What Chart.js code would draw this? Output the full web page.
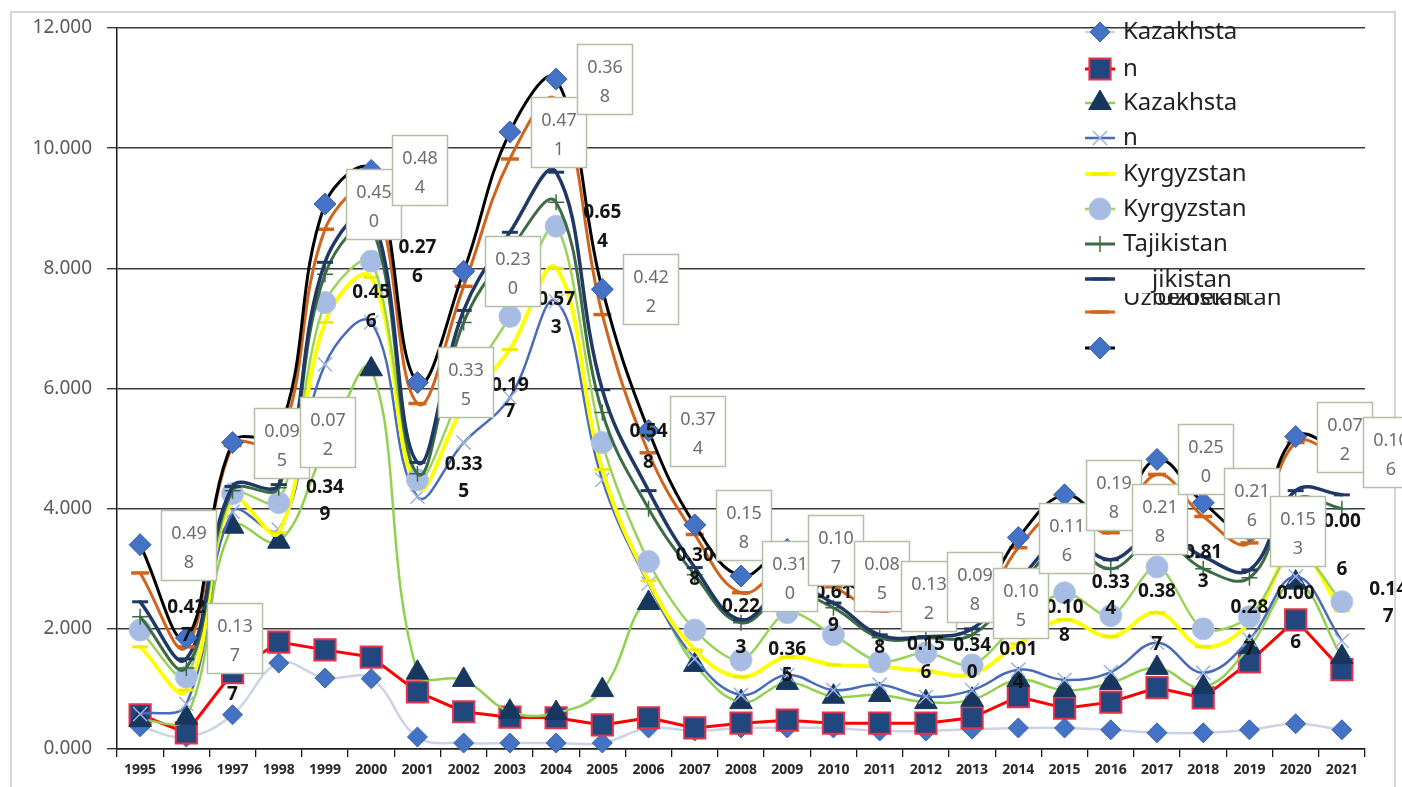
<!DOCTYPE html>
<html>
<head>
<meta charset="utf-8">
<script src="https://cdn.jsdelivr.net/npm/chart.js@4.4.1/dist/chart.umd.min.js"></script>
<style>
  html, body { margin: 0; padding: 0; background: #ffffff; overflow: hidden; }
  #wrap { width: 1402px; height: 787px; position: relative; }
</style>
</head>
<body>
<div id="wrap"><canvas id="chart" width="1402" height="787"></canvas></div>
<script>
// Years on the category axis
const years = ['1995','1996','1997','1998','1999','2000','2001','2002','2003','2004','2005','2006','2007','2008',
               '2009','2010','2011','2012','2013','2014','2015','2016','2017','2018','2019','2020','2021'];

// Value axis ticks
const yTickValues = [0, 2, 4, 6, 8, 10, 12];

// Series values, one per year
const kazLow      = [0.37,0.20,0.57,1.43,1.18,1.17,0.20,0.10,0.10,0.10,0.10,0.35,0.30,0.35,0.35,0.35,0.30,0.30,0.33,0.35,0.35,0.32,0.27,0.27,0.32,0.42,0.32];
const kazSquares  = [0.57,0.27,1.27,1.78,1.65,1.53,0.95,0.62,0.53,0.52,0.40,0.52,0.35,0.43,0.48,0.43,0.43,0.43,0.52,0.87,0.68,0.78,1.02,0.85,1.45,2.15,1.32];
const kazTriangle = [0.48,0.52,3.70,3.45,5.00,6.32,1.27,1.15,0.62,0.60,0.98,2.43,1.40,0.78,1.10,0.87,0.90,0.78,0.82,1.15,0.98,1.10,1.35,1.03,1.70,2.77,1.53];
const kazCross    = [0.58,0.75,3.95,3.65,6.40,7.10,4.20,5.10,5.85,7.45,4.48,2.75,1.50,0.90,1.23,0.98,1.07,0.87,0.98,1.32,1.15,1.28,1.77,1.27,1.82,2.87,1.80];
const kgzYellow   = [1.70,0.98,4.15,3.60,7.10,7.85,4.35,5.70,6.65,8.00,4.65,2.80,1.65,1.20,1.53,1.40,1.37,1.30,1.25,1.75,2.15,1.87,2.27,1.70,2.10,3.30,2.30];
const kgzCircle   = [1.98,1.20,4.25,4.10,7.43,8.12,4.48,6.00,7.20,8.70,5.10,3.12,1.98,1.48,2.27,1.90,1.45,1.60,1.40,2.10,2.60,2.22,3.03,2.00,2.20,3.30,2.45];
const tjkGreen    = [2.20,1.35,4.30,4.35,7.90,8.70,4.58,7.10,8.30,9.10,5.60,4.00,2.90,2.10,2.60,2.35,1.85,1.85,1.90,2.70,3.40,3.00,3.50,3.00,2.85,4.15,4.00];
const tjkNavy     = [2.45,1.50,4.37,4.40,8.10,8.90,4.77,7.30,8.60,9.60,5.98,4.30,3.02,2.15,2.70,2.43,1.90,1.87,2.00,2.80,3.50,3.15,3.60,3.20,2.98,4.30,4.23];
const uzbOrange   = [2.93,1.70,5.05,5.10,8.65,9.30,5.75,7.70,9.82,10.80,7.23,4.93,3.57,2.60,3.00,2.70,2.30,2.45,2.20,3.35,4.00,3.60,4.57,3.87,3.43,5.10,4.85];
const uzbTop      = [3.40,1.85,5.10,5.27,9.07,9.63,6.10,7.95,10.27,11.15,7.65,5.30,3.73,2.88,3.32,2.88,2.55,2.70,2.43,3.52,4.23,3.82,4.82,4.10,3.63,5.20,4.95];

// Legend entries, in series order
const legendTexts = ['Kazakhsta', 'n', 'Kazakhsta', 'n', 'Kyrgyzstan', 'Kyrgyzstan', 'Tajikistan', 'jikistan', 'Uzbekistan', ''];

// Boxed labels attached to the top series, one per year
const boxLabelTexts = ['0.498','0.137','0.095','0.072','0.450','0.484','0.335','0.230','0.471','0.368','0.422','0.374','0.158',
                       '0.310','0.107','0.085','0.132','0.098','0.105','0.116','0.198','0.218','0.250','0.216','0.153','0.072','0.106'];

// Bold free-standing labels: year, text
const boldLabelYears = [1996,1997,1999,2000,2001,2002,2003,2004,2005,2006,2007,2008,2009,2010,2011,2012,2013,2014,2015,2016,2017,2018,2019,2020,2021,2022];
const boldLabelTexts = ['0.427','0.137','0.349','0.456','0.276','0.335','0.197','0.573','0.654','0.548','0.308','0.223','0.365',
                        '0.619','0.578','0.156','0.340','0.014','0.108','0.334','0.387','0.813','0.287','0.006','0.006','0.147'];
// Where each bold label's two lines sit, in axis units
const boldLabelLineAt = [[2.35,1.88],[1.35,0.90],[4.35,3.90],[7.60,7.12],[8.35,7.87],[4.73,4.28],[6.05,5.62],[7.48,7.02],
                         [8.92,8.45],[5.28,4.77],[3.22,2.82],[2.37,1.68],[1.65,1.22],[2.60,2.05],[2.37,1.68],[1.73,1.27],
                         [1.72,1.27],[1.65,1.10],[2.35,1.88],[2.77,2.33],[2.62,1.73],[3.27,2.78],[2.35,1.65],[2.58,1.77],
                         [3.78,2.98],[2.65,2.20]];

// Legend layout
const legendSymbolY = [32, 69, 103, 138, 174, 209, 244, 279, 312, 348];
const legendTextY   = [32, 69, 103, 138, 174, 209, 244, 280, 298, 348];
const legendTextX   = [1123, 1123, 1123, 1123, 1123, 1123, 1123, 1152, 1123, 1123];

function splitLabel(t) { return [t.slice(0, 4), t.slice(4)]; }

const FONT = '"Noto Sans", "DejaVu Sans", sans-serif';

function series(label, data, o) {
  return Object.assign({
    label: label,
    data: data,
    fill: false,
    clip: false,
    tension: 0.4,
    borderCapStyle: 'round',
    borderJoinStyle: 'round'
  }, o);
}

const datasets = [
  series(legendTexts[0], kazLow, { borderColor: '#CBD3E4', borderWidth: 2.5, pointStyle: 'rectRot', pointRadius: 10,
    pointBackgroundColor: '#4472C4', pointBorderColor: '#3A63AE', pointBorderWidth: 1, order: 10 }),
  series(legendTexts[1], kazSquares, { borderColor: '#FF0000', borderWidth: 3, tension: 0, pointStyle: 'rect', pointRadius: 15,
    pointBackgroundColor: '#22477F', pointBorderColor: '#E8314A', pointBorderWidth: 2, order: 9 }),
  series(legendTexts[2], kazTriangle, { borderColor: '#92D050', borderWidth: 2.5, pointStyle: 'triangle', pointRadius: 13,
    pointBackgroundColor: '#17375E', pointBorderColor: '#17375E', pointBorderWidth: 1, order: 8 }),
  series(legendTexts[3], kazCross, { borderColor: '#4A6BB8', borderWidth: 2.5, pointStyle: 'crossRot', pointRadius: 10,
    pointBackgroundColor: '#9DB3DD', pointBorderColor: '#9DB3DD', pointBorderWidth: 1.5, order: 7 }),
  series(legendTexts[4], kgzYellow, { borderColor: '#FFFF00', borderWidth: 4, pointStyle: 'line', pointRadius: 8,
    pointBackgroundColor: '#FFFF00', pointBorderColor: '#EDED00', pointBorderWidth: 3, order: 6 }),
  series(legendTexts[5], kgzCircle, { borderColor: '#9BD35A', borderWidth: 2.5, tension: 0.3, pointStyle: 'circle', pointRadius: 11,
    pointBackgroundColor: '#A7BCE2', pointBorderColor: '#B7C8E8', pointBorderWidth: 1, order: 5 }),
  series(legendTexts[6], tjkGreen, { borderColor: '#3D6B43', borderWidth: 3, pointStyle: 'cross', pointRadius: 8,
    pointBackgroundColor: '#3D6B43', pointBorderColor: '#3D6B43', pointBorderWidth: 1.5, order: 4 }),
  series(legendTexts[7], tjkNavy, { borderColor: '#1F3864', borderWidth: 3.5, pointStyle: 'line', pointRadius: 8,
    pointBackgroundColor: '#1F3864', pointBorderColor: '#1F3864', pointBorderWidth: 3, order: 3 }),
  series(legendTexts[8], uzbOrange, { borderColor: '#D0641C', borderWidth: 3, pointStyle: 'line', pointRadius: 9,
    pointBackgroundColor: '#D0641C', pointBorderColor: '#D0641C', pointBorderWidth: 3.5, order: 2 }),
  series(legendTexts[9], uzbTop, { borderColor: '#000000', borderWidth: 3, pointStyle: 'rectRot', pointRadius: 11,
    pointBackgroundColor: '#4472C4', pointBorderColor: '#3A63AE', pointBorderWidth: 1, order: 1 })
];

// Page background and outer frame
const framePlugin = {
  id: 'framePlugin',
  beforeDraw(chart) {
    const ctx = chart.ctx;
    ctx.save();
    ctx.fillStyle = '#ffffff';
    ctx.fillRect(0, 0, chart.width, chart.height);
    ctx.strokeStyle = '#D6D6D6';
    ctx.lineWidth = 2;
    ctx.strokeRect(11, 12, 1384, 800);
    ctx.restore();
  }
};

// Bold labels, then boxed labels beside the top series
const labelPlugin = {
  id: 'labelPlugin',
  afterDatasetsDraw(chart) {
    const ctx = chart.ctx, xs = chart.scales.x, ys = chart.scales.y;
    const first = Number(years[0]);
    ctx.save();
    ctx.textAlign = 'center';
    ctx.textBaseline = 'middle';
    ctx.font = 'bold 19px ' + FONT;
    ctx.fillStyle = '#141414';
    boldLabelTexts.forEach((t, i) => {
      const x = xs.getPixelForValue(boldLabelYears[i] - first);
      const parts = splitLabel(t);
      ctx.fillText(parts[0], x, ys.getPixelForValue(boldLabelLineAt[i][0]));
      ctx.fillText(parts[1], x, ys.getPixelForValue(boldLabelLineAt[i][1]));
    });

    const meta = chart.getDatasetMeta(datasets.length - 1);
    ctx.font = '18px ' + FONT;
    meta.data.forEach((pt, i) => {
      const w = 55, h = 70;
      const left = Math.round(pt.x + 21) + 0.5, top = Math.round(pt.y - h / 2) + 0.5;
      ctx.fillStyle = '#ffffff';
      ctx.fillRect(left, top, w, h);
      ctx.strokeStyle = '#B3C0A5';
      ctx.lineWidth = 1.5;
      ctx.strokeRect(left, top, w, h);
      const parts = splitLabel(boxLabelTexts[i]);
      ctx.fillStyle = '#6E6E6E';
      ctx.fillText(parts[0], left + w / 2, top + 23);
      ctx.fillText(parts[1], left + w / 2, top + 52);
    });
    ctx.restore();
  }
};

function drawMarker(ctx, ds, x, y) {
  const opts = { pointStyle: ds.pointStyle, radius: ds.pointRadius, rotation: 0, borderWidth: ds.pointBorderWidth };
  ctx.fillStyle = ds.pointBackgroundColor;
  ctx.strokeStyle = ds.pointBorderColor;
  ctx.lineWidth = ds.pointBorderWidth;
  if (Chart.helpers && Chart.helpers.drawPoint) {
    Chart.helpers.drawPoint(ctx, opts, x, y);
  } else {
    ctx.beginPath();
    ctx.arc(x, y, ds.pointRadius * 0.8, 0, Math.PI * 2);
    ctx.fill();
    ctx.stroke();
  }
}

// Legend drawn over the plot, top right
const legendPlugin = {
  id: 'legendPlugin',
  afterDraw(chart) {
    const ctx = chart.ctx;
    ctx.save();
    ctx.textAlign = 'left';
    ctx.textBaseline = 'middle';
    ctx.font = '24px ' + FONT;
    datasets.forEach((ds, i) => {
      if (i === 7) return;
      const y = legendSymbolY[i];
      ctx.strokeStyle = ds.borderColor;
      ctx.lineWidth = ds.borderWidth;
      ctx.beginPath();
      ctx.moveTo(1085, y);
      ctx.lineTo(1115, y);
      ctx.stroke();
      drawMarker(ctx, ds, 1100, y);
      if (ds.label) {
        ctx.fillStyle = '#222222';
        ctx.fillText(ds.label, legendTextX[i], legendTextY[i]);
        if (i === 8) ctx.fillText(ds.label, legendTextX[i] + 34, legendTextY[i]);
      }
    });
    // the eighth entry sits on a white band over the ninth entry's text
    ctx.fillStyle = '#ffffff';
    ctx.fillRect(1119, 270, 178, 23);
    const ds = datasets[7];
    const y = legendSymbolY[7];
    ctx.strokeStyle = ds.borderColor;
    ctx.lineWidth = ds.borderWidth;
    ctx.beginPath();
    ctx.moveTo(1085, y);
    ctx.lineTo(1115, y);
    ctx.stroke();
    drawMarker(ctx, ds, 1100, y);
    ctx.fillStyle = '#222222';
    ctx.fillText(ds.label, legendTextX[7], legendTextY[7]);
    ctx.restore();
  }
};

new Chart(document.getElementById('chart'), {
  type: 'line',
  data: { labels: years, datasets: datasets },
  options: {
    responsive: false,
    animation: false,
    devicePixelRatio: 1,
    layout: { padding: { left: 0, top: 28, right: 37, bottom: 0 } },
    plugins: {
      legend: { display: false },
      tooltip: { enabled: false },
      title: { display: false }
    },
    scales: {
      x: {
        type: 'category',
        offset: true,
        grid: { display: true, offset: true, drawOnChartArea: false, drawTicks: true, tickLength: 8, color: '#1a1a1a', lineWidth: 1.3 },
        border: { display: true, color: '#1a1a1a', width: 1.5 },
        ticks: { autoSkip: false, maxRotation: 0, minRotation: 0, padding: 5, color: '#2a2a2a',
                 font: { family: FONT, size: 14, weight: 'bold' } },
        afterFit(scale) { scale.height = 38; scale.paddingLeft = 0; scale.paddingRight = 0; }
      },
      y: {
        min: 0,
        max: 12,
        afterBuildTicks(scale) { scale.ticks = yTickValues.map(v => ({ value: v })); },
        grid: { color: '#3a3a3a', lineWidth: 1.4, drawTicks: true, tickLength: 10 },
        border: { display: true, color: '#1a1a1a', width: 1.5 },
        ticks: { padding: 15, color: '#5a5a5a', font: { family: FONT, size: 19 },
                 callback: v => Number(v).toFixed(3) },
        afterFit(scale) { scale.width = 117; scale.paddingTop = 0; scale.paddingBottom = 0; }
      }
    }
  },
  plugins: [framePlugin, labelPlugin, legendPlugin]
});
</script>
</body>
</html>
